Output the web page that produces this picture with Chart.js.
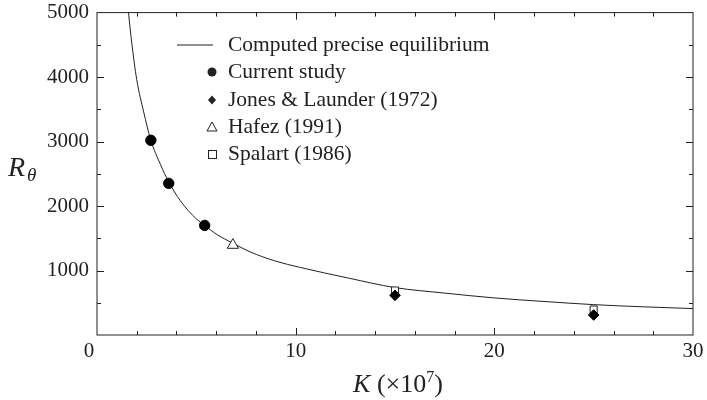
<!DOCTYPE html>
<html>
<head>
<meta charset="utf-8">
<script src="https://cdn.jsdelivr.net/npm/chart.js@4/dist/chart.umd.min.js"></script>
<style>
  html, body { margin: 0; padding: 0; background: #fff; }
  #wrap { width: 707px; height: 400px; position: relative; }
</style>
</head>
<body>
<div id="wrap"><canvas id="chart" width="707" height="400"></canvas></div>
<script>
/* ─── Data ───────────────────────────────────────────────────── */
// computed precise equilibrium curve
const curveK = [1.55, 1.6, 1.75, 2.0, 2.35, 2.7, 3.2, 3.6, 4.2, 5.0, 5.4, 6.0, 6.8, 7.7, 9.0, 10.2, 12.7, 15, 17.5, 20, 22.5, 25, 27.5, 30];
const curveR = [5150, 4960, 4530, 3960, 3460, 3030, 2640, 2380, 2080, 1800, 1705, 1565, 1430, 1290, 1145, 1050, 880, 735, 650, 575, 520, 471, 437, 410];

const currentK = [2.71, 3.61, 5.42];
const currentR = [3020, 2352, 1700];

const jonesK = [15, 25];
const jonesR = [615, 310];

const hafezK = [6.84];
const hafezR = [1395];

const spalartK = [15, 25];
const spalartR = [690, 395];

const xTicks = [0, 10, 20, 30];
const yTicks = [1000, 2000, 3000, 4000, 5000];

const LEGEND_LABELS = [
  'Computed precise equilibrium',
  'Current study',
  'Jones & Launder (1972)',
  'Hafez (1991)',
  'Spalart (1986)',
];

const FONT = '"Liberation Serif", "DejaVu Serif", serif';
const INK = '#222';

const pts = (xs, ys) => xs.map((x, i) => ({ x, y: ys[i] }));

/* ─── Frame, ticks, titles, legend ───────────────────────────── */
const decorPlugin = {
  id: 'decor',
  afterDraw(chart) {
    const { ctx, chartArea: a, scales: { x, y } } = chart;
    ctx.save();
    ctx.strokeStyle = INK;
    ctx.lineWidth = 1;
    ctx.strokeRect(a.left, a.top, a.right - a.left, a.bottom - a.top);

    // inward ticks on all four sides
    ctx.beginPath();
    for (let v = 2; v < 30; v += 2) {
      const px = Math.round(x.getPixelForValue(v)) + 0.5;
      const len = v % 10 === 0 ? 7 : 4;
      ctx.moveTo(px, a.bottom); ctx.lineTo(px, a.bottom - len);
      ctx.moveTo(px, a.top);    ctx.lineTo(px, a.top + len);
    }
    for (let v = 500; v < 5000; v += 500) {
      const py = Math.round(y.getPixelForValue(v)) + 0.5;
      const len = v % 1000 === 0 ? 7 : 4;
      ctx.moveTo(a.left, py);  ctx.lineTo(a.left + len, py);
      ctx.moveTo(a.right, py); ctx.lineTo(a.right - len, py);
    }
    ctx.stroke();

    // x tick labels (the origin label sits a little left of the axis, as in the source)
    ctx.fillStyle = INK;
    ctx.font = `21px ${FONT}`;
    ctx.textAlign = 'center';
    ctx.textBaseline = 'top';
    xTicks.forEach(v => {
      const px = x.getPixelForValue(v) - (v === 0 ? 8 : 0);
      ctx.fillText(String(v), px, a.bottom + 6);
    });

    // axis titles
    ctx.textBaseline = 'alphabetic';
    ctx.textAlign = 'left';
    ctx.font = `italic 28px ${FONT}`;
    ctx.fillText('R', 8, 176);
    ctx.font = `italic 19px ${FONT}`;
    ctx.fillText('θ', 27, 181);

    const cx = (a.left + a.right) / 2 + 3;
    const parts = [
      { t: 'K', f: `italic 26px ${FONT}`, dy: 0 },
      { t: ' (×10', f: `26px ${FONT}`, dy: 0 },
      { t: '7', f: `16px ${FONT}`, dy: -10 },
      { t: ')', f: `26px ${FONT}`, dy: 0 },
    ];
    let total = 0;
    parts.forEach(p => { ctx.font = p.f; p.w = ctx.measureText(p.t).width; total += p.w; });
    let tx = cx - total / 2;
    parts.forEach(p => { ctx.font = p.f; ctx.fillText(p.t, tx, 392 + p.dy); tx += p.w; });

    // legend
    const rows = [45, 72, 100, 127, 154];
    ctx.font = `21.5px ${FONT}`;
    ctx.textBaseline = 'middle';
    LEGEND_LABELS.forEach((label, i) => ctx.fillText(label, 228, rows[i]));

    ctx.beginPath();
    ctx.moveTo(177, rows[0]); ctx.lineTo(213, rows[0]);
    ctx.stroke();
    const mk = 212;
    ctx.beginPath(); ctx.arc(mk, rows[1], 4.5, 0, Math.PI * 2); ctx.fill();
    ctx.beginPath();
    ctx.moveTo(mk, rows[2] - 4.5); ctx.lineTo(mk + 4, rows[2]);
    ctx.lineTo(mk, rows[2] + 4.5); ctx.lineTo(mk - 4, rows[2]);
    ctx.closePath(); ctx.fill();
    ctx.beginPath();
    ctx.moveTo(mk, rows[3] - 5); ctx.lineTo(mk + 5, rows[3] + 4);
    ctx.lineTo(mk - 5, rows[3] + 4); ctx.closePath(); ctx.stroke();
    ctx.strokeRect(mk - 4 + 0.5, rows[4] - 4 + 0.5, 8, 8);
    ctx.restore();
  },
};

/* ─── Chart ──────────────────────────────────────────────────── */
new Chart(document.getElementById('chart'), {
  type: 'scatter',
  data: {
    datasets: [
      {
        label: LEGEND_LABELS[0], type: 'line', data: pts(curveK, curveR),
        borderColor: INK, borderWidth: 1, pointRadius: 0,
        cubicInterpolationMode: 'monotone', order: 5,
      },
      {
        label: LEGEND_LABELS[1], data: pts(currentK, currentR),
        pointStyle: 'circle', pointRadius: 5.2, backgroundColor: '#000', borderColor: '#000', order: 1,
      },
      {
        label: LEGEND_LABELS[2], data: pts(jonesK, jonesR),
        pointStyle: 'rectRot', pointRadius: 5.3, backgroundColor: '#000', borderColor: '#000', order: 1,
      },
      {
        label: LEGEND_LABELS[3], data: pts(hafezK, hafezR),
        pointStyle: 'triangle', pointRadius: 6.5, backgroundColor: '#fff', borderColor: INK, borderWidth: 1, order: 2,
      },
      {
        label: LEGEND_LABELS[4], data: pts(spalartK, spalartR),
        pointStyle: 'rect', pointRadius: 5, backgroundColor: '#fff', borderColor: INK, borderWidth: 1, order: 3,
      },
    ],
  },
  options: {
    responsive: false,
    animation: false,
    layout: { padding: { left: 0, right: 14, top: 2, bottom: 0 } },
    plugins: { legend: { display: false }, tooltip: { enabled: false } },
    scales: {
      x: {
        type: 'linear', min: 0, max: 30,
        afterBuildTicks: s => { s.ticks = xTicks.map(v => ({ value: v })); },
        afterFit: s => { s.height = 65; },
        grid: { display: false }, border: { display: false },
        ticks: { display: false },
      },
      y: {
        type: 'linear', min: 0, max: 5000,
        afterBuildTicks: s => { s.ticks = yTicks.map(v => ({ value: v })); },
        afterFit: s => { s.width = 97; },
        grid: { display: false }, border: { display: false },
        ticks: { color: INK, font: { family: FONT, size: 21 }, padding: 0, callback: v => String(v) },
      },
    },
  },
  plugins: [decorPlugin],
});
</script>
</body>
</html>
